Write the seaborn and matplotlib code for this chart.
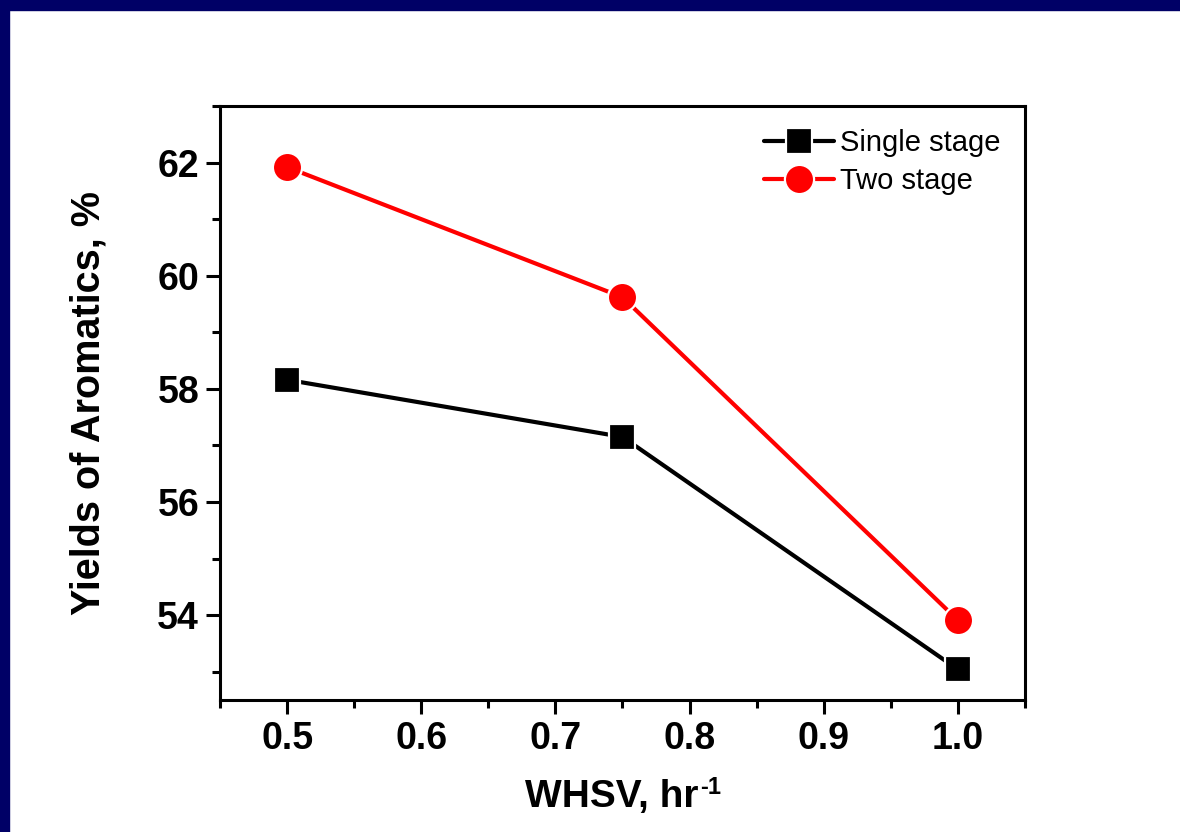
import matplotlib
matplotlib.use("Agg")
import matplotlib.pyplot as plt
from matplotlib.patches import Rectangle
from matplotlib.ticker import MultipleLocator
import seaborn as sns

whsv = [0.5, 0.75, 1.0]
single_stage = [58.16, 57.15, 53.04]
two_stage = [61.92, 59.62, 53.91]

sns.set_style("white")
plt.rcParams["font.family"] = ["Liberation Sans", "DejaVu Sans"]
plt.rcParams.update({"text.color": "black", "axes.labelcolor": "black",
                     "xtick.color": "black", "ytick.color": "black"})

fig = plt.figure(figsize=(11.8, 8.32), dpi=100)
ax = fig.add_axes([220 / 1180, 1 - 700 / 832, 805 / 1180, 594 / 832])

sns.lineplot(x=whsv, y=single_stage, ax=ax, color="black", lw=3,
             marker="s", ms=19, mec="white", mew=1.6, label="Single stage")
sns.lineplot(x=whsv, y=two_stage, ax=ax, color="#ff0000", lw=3,
             marker="o", ms=21, mec="white", mew=1.6, label="Two stage")

ax.set_xlim(0.45, 1.05)
ax.set_ylim(52.5, 63)
ax.xaxis.set_minor_locator(MultipleLocator(0.05))
ax.yaxis.set_minor_locator(MultipleLocator(1))
ax.set_xticks([0.5, 0.6, 0.7, 0.8, 0.9, 1.0])
ax.set_xticklabels(["0.5", "0.6", "0.7", "0.8", "0.9", "1.0"])
ax.set_yticks([54, 56, 58, 60, 62])

for s in ax.spines.values():
    s.set_linewidth(2.2)
    s.set_color("black")
ax.tick_params(which="major", direction="out", length=10, width=2.2,
               bottom=True, left=True, top=False, right=False,
               labelsize=27, pad=5)
ax.tick_params(which="minor", direction="out", length=6, width=2.2,
               bottom=True, left=True, top=False, right=False)
for lab in ax.get_xticklabels() + ax.get_yticklabels():
    lab.set_fontweight("bold")

ax.set_xlabel("WHSV, hr", fontsize=28, fontweight="bold", labelpad=16)
ax.xaxis.label.set_x(0.487)
ax.set_ylabel("Yields of Aromatics, %", fontsize=28.5, fontweight="bold", labelpad=36)
ax.annotate("-1", xy=(1.0, 1.0), xycoords=ax.xaxis.label, xytext=(1, 2),
            textcoords="offset points", ha="left", va="top",
            fontsize=17, fontweight="bold")

ax.legend(loc="upper right", frameon=False, fontsize=21,
          handlelength=2.4, handletextpad=0.2, labelspacing=0.33,
          borderaxespad=0.3, bbox_to_anchor=(0.995, 0.995))

# navy frame strips along top and left edges
fig.add_artist(Rectangle((0, 1 - 10 / 832), 1, 10 / 832,
                         transform=fig.transFigure, color="#000066", zorder=10))
fig.add_artist(Rectangle((0, 0), 9 / 1180, 1,
                         transform=fig.transFigure, color="#000066", zorder=10))

fig.savefig("out.png", dpi=100)
